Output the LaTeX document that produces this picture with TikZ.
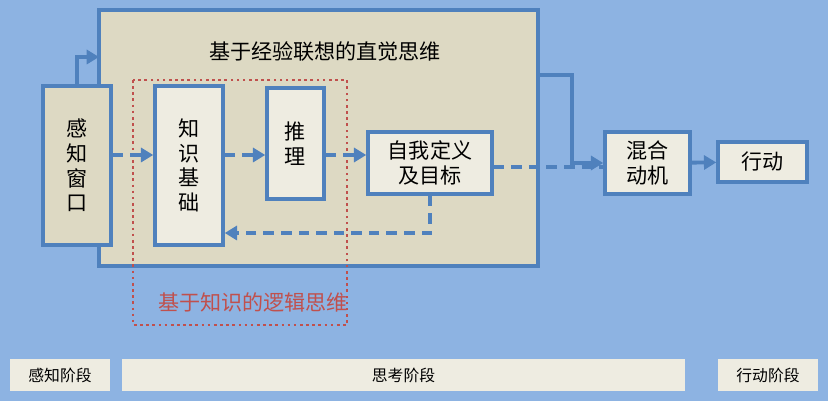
\documentclass[tikz,border=0pt]{standalone}
\usepackage{fontspec}
\setmainfont{Noto Sans CJK SC}
\usetikzlibrary{arrows.meta}
\definecolor{bgblue}{HTML}{8DB3E2}
\definecolor{lineblue}{HTML}{4F81BD}
\definecolor{beige}{HTML}{DDD9C3}
\definecolor{paper}{HTML}{EEECE1}
\definecolor{darkred}{HTML}{C0504D}
\tikzset{
  blockbox/.style={draw=lineblue,line width=2pt,fill=paper,align=center,font=\large},
  stagebar/.style={fill=paper,font=\small},
  flow/.style={lineblue,line width=2.2pt,-{Triangle[length=7pt,width=8pt]}},
  dflow/.style={flow,dash pattern=on 6pt off 4pt}
}
\begin{document}
\begin{tikzpicture}[x=0.02cm,y=-0.02cm]
\fill[bgblue] (0,0) rectangle (828,401);

% big box
\draw[lineblue,line width=2pt,fill=beige] (99,10) rectangle (538,266);
\node[font=\large] (title) at (325,52) {基于经验联想的直觉思维};

% stage bars
\node[stagebar,minimum width=2cm,minimum height=0.66cm] (s1) at (60,375) {感知阶段};
\node[stagebar,minimum width=11.26cm,minimum height=0.66cm] (s2) at (403.5,375) {思考阶段};
\node[stagebar,minimum width=2cm,minimum height=0.66cm] (s3) at (768,375) {行动阶段};

% blocks
\node[blockbox,fill=beige,minimum width=1.36cm,minimum height=3.18cm] (win) at (77,165.5) {感\\知\\窗\\口};
\node[blockbox,minimum width=1.36cm,minimum height=3.18cm] (kb) at (189,165.5) {知\\识\\基\\础};
\node[blockbox,minimum width=1.14cm,minimum height=2.22cm] (inf) at (295.5,143.5) {推\\理};
\node[blockbox,minimum width=2.48cm,minimum height=1.24cm] (self) at (430,163) {自我定义\\及目标};
\node[blockbox,minimum width=1.7cm,minimum height=1.24cm] (mix) at (647.5,163) {混合\\动机};
\node[blockbox,minimum width=1.78cm,minimum height=0.8cm] (act) at (762.5,162) {行动};

% logic region
\draw[darkred,line width=1.5pt,dotted] (133,80) rectangle (347,325);
\node[darkred,font=\large] (logic) at (253,302) {基于知识的逻辑思维};

% connectors
\coordinate (boxin) at (99,57);
\coordinate (boxout) at (538,75);
\draw[flow] (win.north) |- (boxin);
\draw[dflow] (win.east |- 0,155) -- (kb.west |- 0,155);
\draw[dflow] (kb.east |- 0,155) -- (inf.west |- 0,155);
\draw[dflow] (inf.east |- 0,155) -- (self.west |- 0,155);
\draw[dflow] (self.south) |- (kb.east |- 0,233);
\draw[lineblue,line width=2.2pt,dash pattern=on 6pt off 4pt] (self.east |- 0,167) -- (mix.west |- 0,167);
\draw[flow] (boxout) -- (572,75) |- (mix.west |- 0,163);
\draw[flow] (mix) -- (act);
\end{tikzpicture}
\end{document}
